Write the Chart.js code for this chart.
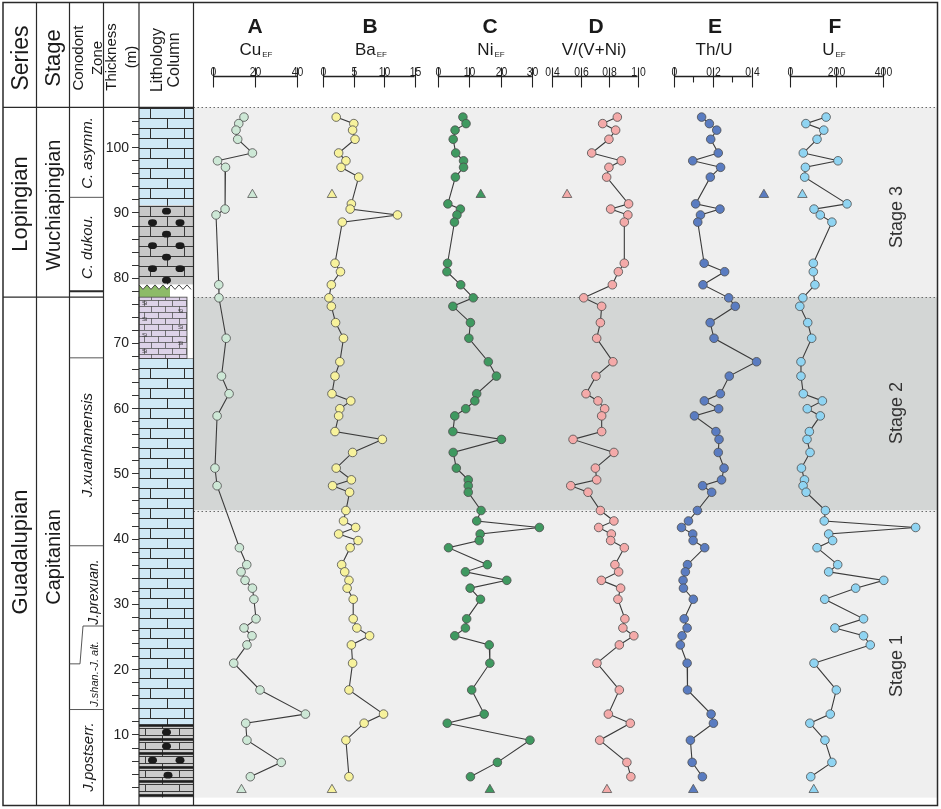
<!DOCTYPE html>
<html lang="en">
<head>
<meta charset="UTF-8">
<title>Redox proxies through the Capitanian–Wuchiapingian section</title>
<script src="https://cdn.jsdelivr.net/npm/chart.js@4.4.1/dist/chart.umd.min.js"></script>
<style>
  html, body { margin: 0; padding: 0; background: #fff; overflow: hidden; }
  #wrap { position: relative; width: 941px; height: 809px; font-family: "Liberation Sans", Arial, sans-serif; color: #1a1a1a; }
  .t { position: absolute; white-space: nowrap; transform: translate(-50%, -50%); line-height: 1.15; text-align: center; pointer-events: none; }
  .r { transform: translate(-50%, -50%) rotate(-90deg); }
  .i { font-style: italic; }
  .b { font-weight: bold; }
  sub { font-size: 8px; vertical-align: -2px; margin-left: 1px; }
</style>
</head>
<body>
<div id="wrap">
    <canvas id="chart"></canvas>

    <!-- column headers -->
    <div class="t r" style="left:20px;top:58px;font-size:23px">Series</div>
    <div class="t r" style="left:53px;top:58px;font-size:22px">Stage</div>
    <div class="t r" style="left:86.5px;top:58px;font-size:15px;line-height:19px">Conodont<br>Zone</div>
    <div class="t r" style="left:121px;top:57px;font-size:15px;line-height:20px">Thickness<br>(m)</div>
    <div class="t r" style="left:165px;top:60px;font-size:16px;line-height:17px">Lithology<br>Column</div>

    <!-- series / stage / zones -->
    <div class="t r" style="left:20px;top:204px;font-size:22px">Lopingian</div>
    <div class="t r" style="left:20px;top:552px;font-size:22px">Guadalupian</div>
    <div class="t r" style="left:53px;top:205px;font-size:20px">Wuchiapingian</div>
    <div class="t r" style="left:53px;top:557px;font-size:20px">Capitanian</div>
    <div class="t r i" style="left:87px;top:153px;font-size:15px">C. asymm.</div>
    <div class="t r i" style="left:87px;top:247px;font-size:15px">C. dukou.</div>
    <div class="t r i" style="left:87px;top:445px;font-size:15px">J.xuanhanensis</div>
    <div class="t r i" style="left:93px;top:592px;font-size:14px">J.prexuan.</div>
    <div class="t r i" style="left:94px;top:674px;font-size:11px">J.shan.-J. alt.</div>
    <div class="t r i" style="left:88px;top:757px;font-size:15px">J.postserr.</div>

    <!-- panel headers -->
    <div class="t b" style="left:255px;top:26px;font-size:21px">A</div>
    <div class="t b" style="left:370px;top:26px;font-size:21px">B</div>
    <div class="t b" style="left:490px;top:26px;font-size:21px">C</div>
    <div class="t b" style="left:596px;top:26px;font-size:21px">D</div>
    <div class="t b" style="left:715px;top:26px;font-size:21px">E</div>
    <div class="t b" style="left:835px;top:26px;font-size:21px">F</div>
    <div class="t" style="left:256px;top:50px;font-size:17px">Cu<sub>EF</sub></div>
    <div class="t" style="left:371px;top:50px;font-size:17px">Ba<sub>EF</sub></div>
    <div class="t" style="left:491px;top:50px;font-size:17px">Ni<sub>EF</sub></div>
    <div class="t" style="left:594px;top:50px;font-size:17px">V/(V+Ni)</div>
    <div class="t" style="left:714px;top:50px;font-size:17px">Th/U</div>
    <div class="t" style="left:834px;top:50px;font-size:17px">U<sub>EF</sub></div>

    <!-- stage labels -->
    <div class="t r" style="left:896px;top:217px;font-size:18px;color:#333">Stage 3</div>
    <div class="t r" style="left:896px;top:413px;font-size:18px;color:#333">Stage 2</div>
    <div class="t r" style="left:896px;top:666px;font-size:18px;color:#333">Stage 1</div>
</div>

<script>
    // sample depths (m) and measured values, null = not analysed
    const depths = [104.7, 103.7, 102.7, 101.3, 99.2, 98.0, 97.0, 95.5, 91.4, 90.6, 89.7, 88.6, 82.3, 81.0, 79.0, 77.0, 75.7, 73.2,
        70.8, 67.2, 65.0, 62.3, 61.2, 60.0, 58.9, 56.5, 55.3, 53.3, 50.9, 49.1, 48.2, 47.2, 44.4, 42.8, 41.8, 40.8,
        39.8, 38.7, 36.1, 35.0, 33.7, 32.5, 30.8, 27.8, 26.4, 25.2, 23.8, 21.0, 16.9, 13.2, 11.8, 9.2, 5.8, 3.6];
    const cuEF = [14.7, 12.2, 10.9, 11.7, 18.7, 2.1, 5.9, null, null, 5.7, 1.4, null, null, null, 2.7, 2.8, null, null,
        6.2, null, 4.0, 7.6, null, null, 1.9, null, null, null, 0.9, null, 1.9, null, null, null, null, null,
        null, 12.5, 16.0, 13.3, 15.2, 18.7, 19.4, 20.4, 14.7, 18.5, 16.1, 9.8, 22.3, 43.9, 15.5, 16.1, 32.4, 17.7];
    const baEF = [2.1, 5.0, 4.8, 5.2, 2.5, 3.7, 2.9, 5.8, 4.6, 4.4, 12.2, 3.1, 1.9, 2.8, 1.3, 0.9, 1.3, 2.0,
        3.3, 2.7, 1.9, 1.4, 4.5, 2.7, 2.5, 1.9, 9.7, 4.8, 2.1, 4.6, 1.5, 4.3, 3.7, 3.3, 5.3, 2.5,
        5.7, 4.4, 3.0, 3.5, 4.2, 3.9, 4.9, 4.9, 5.5, 7.6, 4.6, 4.8, 4.2, 9.9, 6.7, 3.7, null, 4.2];
    const niEF = [8.0, 9.0, 5.5, 4.9, 5.7, 8.2, 8.2, 5.6, 3.2, 7.2, 6.1, 5.3, 3.1, 2.9, 7.3, 11.3, 4.8, 10.4,
        9.9, 16.1, 18.7, 12.4, 11.8, 8.9, 5.4, 4.8, 20.3, 4.9, 5.9, 9.7, 9.7, 9.7, 13.8, 12.4, 32.4, 13.5,
        13.2, 3.4, 15.8, 8.8, 22.0, 10.3, 13.6, 9.2, 8.8, 5.4, 16.4, 16.6, 10.8, 14.8, 3.0, 29.4, 19.0, 10.4];
    const vRatio = [0.858, 0.755, 0.846, 0.799, 0.678, 0.886, 0.799, 0.783, 0.937, 0.811, 0.932, 0.907, 0.907, 0.865, 0.823, 0.622, 0.748, 0.739,
        0.713, 0.827, 0.708, 0.638, 0.722, 0.769, 0.748, 0.748, 0.547, 0.834, 0.704, 0.713, 0.531, 0.652, 0.739, 0.834, 0.727, 0.816,
        0.811, 0.907, 0.841, 0.867, 0.746, 0.881, 0.862, 0.911, 0.897, 0.974, 0.872, 0.715, 0.872, 0.795, 0.949, 0.734, 0.925, 0.953];
    const thU = [0.142, 0.182, 0.220, 0.189, 0.228, 0.096, 0.240, 0.187, 0.111, 0.237, 0.136, 0.122, 0.155, 0.261, 0.149, 0.282, 0.316, 0.186,
        0.206, 0.426, 0.285, 0.239, 0.156, 0.230, 0.105, 0.216, 0.232, 0.228, 0.258, 0.245, 0.147, 0.194, 0.120, 0.074, 0.038, 0.096,
        0.098, 0.158, 0.069, 0.058, 0.046, 0.048, 0.099, 0.052, 0.067, 0.041, 0.032, 0.067, 0.069, 0.191, 0.203, 0.084, 0.093, 0.146];
    const uEF = [156, 69, 146, 117, 58, 207, 67, 64, 246, 104, 131, 181, 101, 101, 108, 56, 43, 77,
        94, 48, 48, 58, 140, 75, 131, 84, 74, 87, 50, 63, 57, 70, 153, 148, 541, 167,
        184, 117, 206, 167, 404, 283, 150, 317, 194, 317, 346, 104, 200, 174, 86, 151, 181, 90];

    // reference values (triangles)
    const refDepths = [92.8, 1.6];
    const cuRef = [18.7, 13.5];
    const baRef = [1.4, 1.4];
    const niRef = [13.7, 16.6];
    const vRef = [0.505, 0.785];
    const thRef = [0.464, 0.099];
    const uRef = [54, 103];

    // scale bars
    const cuTicks = [0, 20, 40];
    const cuLabels = ['0', '20', '40'];
    const baTicks = [0, 5, 10, 15];
    const baLabels = ['0', '5', '10', '15'];
    const niTicks = [0, 10, 20, 30];
    const niLabels = ['0', '10', '20', '30'];
    const vTicks = [0.4, 0.6, 0.8, 1.0];
    const vLabels = ['0.4', '0.6', '0.8', '1.0'];
    const thTicks = [0, 0.1, 0.2, 0.3, 0.4];
    const thLabels = ['0', '', '0.2', '', '0.4'];
    const uTicks = [0, 200, 400];
    const uLabels = ['0', '200', '400'];

    const thicknessTicks = [2, 4, 6, 8, 10, 12, 14, 16, 18, 20, 22, 24, 26, 28, 30, 32, 34, 36, 38, 40, 42, 44, 46, 48, 50, 52,
        54, 56, 58, 60, 62, 64, 66, 68, 70, 72, 74, 76, 78, 80, 82, 84, 86, 88, 90, 92, 94, 96, 98, 100, 102, 104];
    const thicknessLabels = [10, 20, 30, 40, 50, 60, 70, 80, 90, 100];

    // stages, zones, lithology (depth in m)
    const stageBounds = [106.2, 77.1, 44.4, 0.4];
    const seriesBoundary = 77.1;
    const zoneLines = [92.4, 67.8, 39.0, 13.9];
    const zoneStep = [26.7, 20.9];
    const zoneThick = 78.0;
    const lithoTop = [106.2, 91.2, 78.6, 77.1, 67.7, 11.5];
    const lithoBase = [91.2, 78.6, 77.1, 67.7, 11.5, 0.4];
    const lithoType = ['limestone', 'nodular', 'contact', 'siliceous', 'limestone', 'bedded'];

    // layout (pixels)
    const AREA_LEFT = 139, AREA_RIGHT = 937;
    const X = { outerL: 3, series: 36.5, stage: 69.5, zone: 103.5, thick: 139, litho: 193.5, outerR: 937.5 };
    const FRAME_TOP = 2.5, FRAME_BOTTOM = 805.5, BAR_Y = 76.5;
    const stageFills = ['#efefef', '#d3d6d5', '#efefef'];

    const panels = [
        { id: 'xA', values: cuEF, ref: cuRef, fill: '#cde8d6', ticks: cuTicks, labels: cuLabels, px: [213.3, 297.7] },
        { id: 'xB', values: baEF, ref: baRef, fill: '#f7f29c', ticks: baTicks, labels: baLabels, px: [324, 415.3] },
        { id: 'xC', values: niEF, ref: niRef, fill: '#3f9960', ticks: niTicks, labels: niLabels, px: [438.7, 533] },
        { id: 'xD', values: vRatio, ref: vRef, fill: '#f4aaa9', ticks: vTicks, labels: vLabels, px: [553.3, 639] },
        { id: 'xE', values: thU, ref: thRef, fill: '#5a7cc1', ticks: thTicks, labels: thLabels, px: [675.7, 753.3] },
        { id: 'xF', values: uEF, ref: uRef, fill: '#8fd4f2', ticks: uTicks, labels: uLabels, px: [791.7, 885] }
    ];

    function rangeFor(p) {
        const lo = p.ticks[0], hi = p.ticks[p.ticks.length - 1];
        const k = (p.px[1] - p.px[0]) / (hi - lo);
        return { min: lo + (AREA_LEFT - p.px[0]) / k, max: lo + (AREA_RIGHT - p.px[0]) / k };
    }

    const datasets = [];
    const scales = {
        y: {
            type: 'linear', position: 'left', min: 0.4, max: 106.2,
            afterFit: s => { s.width = 60; },
            afterBuildTicks: s => { s.ticks = thicknessTicks.map(v => ({ value: v })); },
            ticks: {
                autoSkip: false, padding: 3, color: '#222',
                font: { family: '"Liberation Sans", Arial, sans-serif', size: 14 },
                callback: v => thicknessLabels.includes(Number(v)) ? String(v) : ''
            },
            grid: { drawOnChartArea: false, tickLength: 7, color: '#333', lineWidth: 1 },
            border: { display: false }
        }
    };

    panels.forEach(p => {
        const r = rangeFor(p);
        scales[p.id] = { type: 'linear', display: false, min: r.min, max: r.max };
        datasets.push({
            xAxisID: p.id, yAxisID: 'y', showLine: true,
            data: depths.map((d, i) => ({ x: p.values[i], y: d })).filter(pt => pt.x !== null),
            borderColor: '#3b3b3b', borderWidth: 1.1,
            pointRadius: 4.3, pointBackgroundColor: p.fill, pointBorderColor: '#4d4d4d', pointBorderWidth: 0.8
        });
        datasets.push({
            xAxisID: p.id, yAxisID: 'y', showLine: false,
            data: refDepths.map((d, i) => ({ x: p.ref[i], y: d })),
            pointStyle: 'triangle', pointRadius: 5.5,
            pointBackgroundColor: p.fill, pointBorderColor: '#555', pointBorderWidth: 0.8
        });
    });

    // lithology patterns
    function brick(fill, stroke, w, h, lw) {
        const c = document.createElement('canvas');
        c.width = w; c.height = 2 * h;
        const g = c.getContext('2d');
        g.fillStyle = fill; g.fillRect(0, 0, w, 2 * h);
        g.strokeStyle = stroke; g.lineWidth = lw;
        g.beginPath();
        g.moveTo(0, 0.5); g.lineTo(w, 0.5);
        g.moveTo(0, h + 0.5); g.lineTo(w, h + 0.5);
        g.moveTo(Math.round(w / 4) + 0.5, 0); g.lineTo(Math.round(w / 4) + 0.5, h);
        g.moveTo(Math.round(3 * w / 4) + 0.5, h); g.lineTo(Math.round(3 * w / 4) + 0.5, 2 * h);
        g.stroke();
        return c;
    }

    function nodule(ctx, x, y) {
        ctx.fillStyle = '#1b1b1b';
        ctx.beginPath();
        ctx.ellipse(x, y, 4.5, 3.4, 0, 0, Math.PI * 2);
        ctx.fill();
    }

    function drawLitho(ctx, ys) {
        const L = X.thick, R = X.litho;
        const blue = ctx.createPattern(brick('#cfe8f6', '#2e2e2e', 34, 10, 1), 'repeat');
        const grey = ctx.createPattern(brick('#c8c8c8', '#3a3a3a', 34, 10, 1), 'repeat');
        const bed = ctx.createPattern(brick('#cbcbcb', '#3a3a3a', 34, 7, 1), 'repeat');
        const sil = ctx.createPattern(brick('#ddd2e8', '#555', 14, 6, 0.8), 'repeat');
        blue.setTransform(new DOMMatrix([1, 0, 0, 1, 5, 8]));
        grey.setTransform(new DOMMatrix([1, 0, 0, 1, 5, 6]));

        lithoType.forEach((type, i) => {
            const y0 = ys.getPixelForValue(lithoTop[i]);
            const y1 = ys.getPixelForValue(lithoBase[i]);
            ctx.save();
            if (type === 'limestone') {
                ctx.fillStyle = blue; ctx.fillRect(L, y0, R - L, y1 - y0);
            } else if (type === 'nodular') {
                ctx.fillStyle = grey; ctx.fillRect(L, y0, R - L, y1 - y0);
                let k = 0;
                for (let yy = y0 + 6; yy < y1 - 2; yy += 11.5, k++) {
                    if (k % 2 === 0) nodule(ctx, 166.5, yy);
                    else { nodule(ctx, 152.5, yy); nodule(ctx, 180, yy); }
                }
            } else if (type === 'contact') {
                ctx.fillStyle = '#fff'; ctx.fillRect(L, y0 - 3, R - L, y1 - y0 + 3);
                ctx.beginPath();
                ctx.moveTo(L, y1);
                let up = true;
                for (let xx = L; xx <= R; xx += 4) { ctx.lineTo(xx, y0 + (up ? -2.5 : 2)); up = !up; }
                ctx.lineTo(R, y1);
                ctx.closePath();
                ctx.save(); ctx.clip();
                ctx.fillStyle = '#8dbb68'; ctx.fillRect(L, y0 - 4, 170 - L, y1 - y0 + 4);
                ctx.restore();
                ctx.beginPath();
                up = true;
                for (let xx = L; xx <= R; xx += 4) { ctx.lineTo(xx, y0 + (up ? -2.5 : 2)); up = !up; }
                ctx.strokeStyle = '#333'; ctx.lineWidth = 0.9; ctx.stroke();
            } else if (type === 'siliceous') {
                ctx.fillStyle = sil; ctx.fillRect(L, y0, 187 - L, y1 - y0);
                ctx.strokeStyle = '#444'; ctx.lineWidth = 0.8; ctx.strokeRect(L, y0, 187 - L, y1 - y0);
                ctx.fillStyle = '#333'; ctx.font = '6px "Liberation Sans", Arial';
                let k = 0;
                for (let yy = y0 + 8; yy < y1 - 2; yy += 8, k++) {
                    ctx.fillText('Si', k % 2 ? 178 : 142, yy);
                }
            } else if (type === 'bedded') {
                ctx.fillStyle = bed; ctx.fillRect(L, y0, R - L, y1 - y0);
                ctx.fillStyle = '#1e1e1e';
                for (let yy = y0; yy < y1; yy += 14) ctx.fillRect(L, yy - 1, R - L, 2.6);
                nodule(ctx, 166.5, y0 + 7); nodule(ctx, 166.5, y0 + 21);
                nodule(ctx, 152.5, y0 + 35); nodule(ctx, 180, y0 + 35); nodule(ctx, 168, y0 + 50);
            }
            ctx.restore();
        });
    }

    function hline(ctx, x0, x1, y) { ctx.beginPath(); ctx.moveTo(x0, y); ctx.lineTo(x1, y); ctx.stroke(); }
    function vline(ctx, x, y0, y1) { ctx.beginPath(); ctx.moveTo(x, y0); ctx.lineTo(x, y1); ctx.stroke(); }

    const backdrop = {
        id: 'backdrop',
        beforeDraw(chart) {
            const { ctx } = chart;
            const ys = chart.scales.y;
            ctx.save();
            ctx.fillStyle = '#fff';
            ctx.fillRect(0, 0, chart.width, chart.height);
            for (let i = 0; i < stageBounds.length - 1; i++) {
                const y0 = ys.getPixelForValue(stageBounds[i]);
                const y1 = ys.getPixelForValue(stageBounds[i + 1]);
                ctx.fillStyle = stageFills[i];
                ctx.fillRect(X.litho, y0, X.outerR - X.litho, y1 - y0);
            }
            ctx.setLineDash([1.5, 2.5]);
            ctx.strokeStyle = '#6a6a6a';
            ctx.lineWidth = 1.2;
            stageBounds.slice(0, 3).forEach(v => hline(ctx, X.litho, X.outerR, Math.round(ys.getPixelForValue(v)) + 0.5));
            ctx.setLineDash([]);
            drawLitho(ctx, ys);
            ctx.restore();
        },
        afterDraw(chart) {
            const { ctx } = chart;
            const ys = chart.scales.y;
            ctx.save();
            ctx.strokeStyle = '#2a2a2a';

            // left columns
            ctx.lineWidth = 1.2;
            [X.series, X.stage, X.zone, X.thick, X.litho].forEach(x => vline(ctx, x, FRAME_TOP, FRAME_BOTTOM));
            hline(ctx, X.outerL, X.litho, ys.getPixelForValue(stageBounds[0]));
            hline(ctx, X.outerL, X.zone, ys.getPixelForValue(seriesBoundary));
            ctx.lineWidth = 0.9;
            ctx.strokeStyle = '#444';
            zoneLines.forEach(v => hline(ctx, X.stage, X.zone, ys.getPixelForValue(v)));
            ctx.beginPath();
            ctx.moveTo(X.stage, ys.getPixelForValue(zoneStep[1]));
            ctx.lineTo(80, ys.getPixelForValue(zoneStep[1]));
            ctx.lineTo(83, ys.getPixelForValue(zoneStep[0]));
            ctx.lineTo(X.zone, ys.getPixelForValue(zoneStep[0]));
            ctx.stroke();
            ctx.strokeStyle = '#2a2a2a';
            ctx.lineWidth = 2;
            hline(ctx, X.stage, X.zone, ys.getPixelForValue(zoneThick));

            // outer frame
            ctx.lineWidth = 1.5;
            ctx.strokeRect(X.outerL, FRAME_TOP, X.outerR - X.outerL, FRAME_BOTTOM - FRAME_TOP);

            // scale bars above each panel
            ctx.strokeStyle = '#222';
            ctx.fillStyle = '#222';
            ctx.font = '13px "Liberation Sans Narrow", "Liberation Sans", Arial, sans-serif';
            ctx.textAlign = 'center';
            ctx.textBaseline = 'alphabetic';
            panels.forEach(p => {
                const s = chart.scales[p.id];
                const x0 = s.getPixelForValue(p.ticks[0]);
                const x1 = s.getPixelForValue(p.ticks[p.ticks.length - 1]);
                ctx.lineWidth = 1.3;
                hline(ctx, x0, x1, BAR_Y);
                p.ticks.forEach((v, i) => {
                    const x = Math.round(s.getPixelForValue(v)) + 0.5;
                    ctx.lineWidth = 1.1;
                    if (p.labels[i]) {
                        vline(ctx, x, BAR_Y - 9, BAR_Y + 11);
                        ctx.save();
                        ctx.translate(x, BAR_Y - 1);
                        ctx.scale(0.8, 1);
                        ctx.fillText(p.labels[i], 0, 0);
                        ctx.restore();
                    } else {
                        vline(ctx, x, BAR_Y, BAR_Y + 6);
                    }
                });
            });
            ctx.restore();
        }
    };

    new Chart(document.getElementById('chart'), {
        type: 'scatter',
        data: { datasets },
        options: {
            responsive: true,
            maintainAspectRatio: false,
            animation: false,
            events: [],
            layout: { padding: { left: 79, right: 4, top: 107.3, bottom: 4 } },
            plugins: { legend: { display: false }, tooltip: { enabled: false } },
            scales
        },
        plugins: [backdrop]
    });
</script>
</body>
</html>
